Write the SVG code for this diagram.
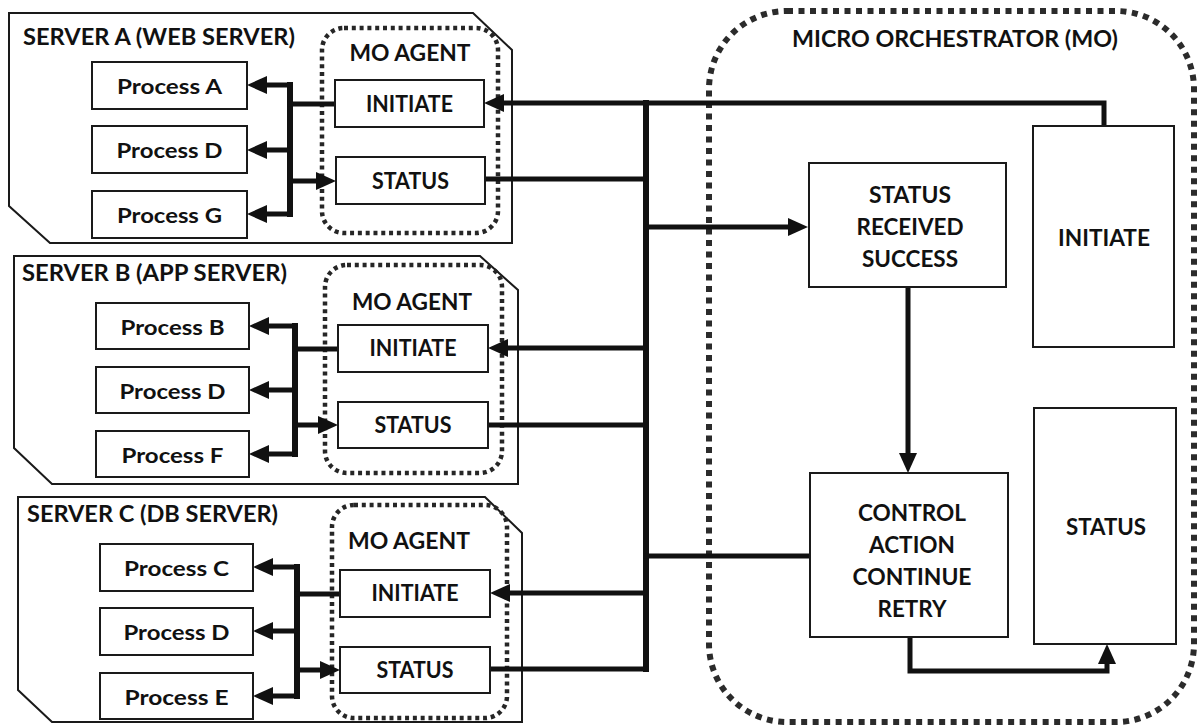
<svg xmlns="http://www.w3.org/2000/svg" width="1198" height="726" viewBox="0 0 1198 726">
  <style>
    .bg { fill: #ffffff; }
    .server { fill: #ffffff; stroke: #1a1a1a; stroke-width: 2; stroke-linejoin: miter; }
    .agent { fill: none; stroke: #262626; stroke-width: 4.5; stroke-dasharray: 4 3.8; }
    .mo { fill: none; stroke: #2b2b2b; stroke-width: 6; stroke-dasharray: 6 5.5; }
    .box { fill: #ffffff; stroke: #1a1a1a; stroke-width: 2; }
    .wire { fill: none; stroke: #111111; stroke-width: 5; stroke-linejoin: miter; stroke-linecap: square; }
    .trunk { fill: none; stroke: #111111; stroke-width: 6; stroke-linecap: square; }
    .arrow { fill: none; stroke: #111111; stroke-width: 5; stroke-linecap: butt; stroke-linejoin: miter; marker-end: url(#head); }
    text { font-family: Lato, "Open Sans", "Liberation Sans", sans-serif; font-weight: 700; fill: #111111; }
    .title { font-size: 22px; }
    .proc { font-size: 21px; text-anchor: middle; }
    .lbl { font-size: 22px; text-anchor: middle; }
    .big { font-size: 23px; text-anchor: middle; }
  </style>
  <defs>
    <marker id="head" markerUnits="userSpaceOnUse" markerWidth="20" markerHeight="18" viewBox="0 0 20 18" refX="10" refY="9" orient="auto">
      <path d="M0,0 L20,9 L0,18 Z" fill="#111111"/>
    </marker>
  </defs>

  <rect class="bg" x="0" y="0" width="1198" height="726"/>

  <!-- Micro orchestrator boundary -->
  <g id="micro-orchestrator">
    <rect class="mo" x="709" y="11" width="485" height="711" rx="78" ry="78"/>
    <text class="big" x="955" y="47" textLength="326" lengthAdjust="spacingAndGlyphs">MICRO ORCHESTRATOR (MO)</text>
  </g>

  <!-- Server A -->
  <g id="server-a">
    <path class="server" d="M9,13 H473 L512,50 V243 H50 L9,206 Z"/>
    <text class="title" x="23" y="45" textLength="272" lengthAdjust="spacingAndGlyphs">SERVER A (WEB SERVER)</text>
  </g>
  <g id="agent-a">
    <rect class="agent" x="322" y="28" width="176" height="205" rx="22" ry="22"/>
    <text class="lbl" x="410" y="61" textLength="121" lengthAdjust="spacingAndGlyphs">MO AGENT</text>
  </g>

  <!-- Server B -->
  <g id="server-b">
    <path class="server" d="M14,256 H480 L518,290 V484 H52 L14,448 Z"/>
    <text class="title" x="22" y="281" textLength="265" lengthAdjust="spacingAndGlyphs">SERVER B (APP SERVER)</text>
  </g>
  <g id="agent-b">
    <rect class="agent" x="325" y="265" width="177" height="208" rx="22" ry="22"/>
    <text class="lbl" x="412" y="310" textLength="120" lengthAdjust="spacingAndGlyphs">MO AGENT</text>
  </g>

  <!-- Server C -->
  <g id="server-c">
    <path class="server" d="M18,497 H485 L522,533 V722 H52 L18,690 Z"/>
    <text class="title" x="27" y="522" textLength="251" lengthAdjust="spacingAndGlyphs">SERVER C (DB SERVER)</text>
  </g>
  <g id="agent-c">
    <rect class="agent" x="332" y="505" width="175" height="213" rx="22" ry="22"/>
    <text class="lbl" x="409" y="549" textLength="122" lengthAdjust="spacingAndGlyphs">MO AGENT</text>
  </g>

  <!-- Connectors -->
  <g id="connectors">
    <!-- server A: agent to processes -->
    <path class="trunk" d="M290,85 V214"/>
    <path class="wire" d="M335,104 H290"/>
    <path class="arrow" d="M290,85 H257"/>
    <path class="arrow" d="M290,150 H257"/>
    <path class="arrow" d="M290,214 H257"/>
    <path class="arrow" d="M290,181 H326"/>

    <!-- server B: agent to processes -->
    <path class="trunk" d="M295,326 V454"/>
    <path class="wire" d="M338,349 H295"/>
    <path class="arrow" d="M295,326 H259"/>
    <path class="arrow" d="M295,390 H259"/>
    <path class="arrow" d="M295,454 H259"/>
    <path class="arrow" d="M295,425 H328"/>

    <!-- server C: agent to processes -->
    <path class="trunk" d="M297,567 V696"/>
    <path class="wire" d="M340,594 H297"/>
    <path class="arrow" d="M297,567 H263"/>
    <path class="arrow" d="M297,631 H263"/>
    <path class="arrow" d="M297,696 H263"/>
    <path class="arrow" d="M297,670 H330"/>

    <!-- orchestrator bus -->
    <path class="trunk" d="M646,103 V669"/>
    <path class="arrow" d="M1104,126 V103 H494"/>
    <path class="wire" d="M485,179 H646"/>
    <path class="arrow" d="M646,227 H798"/>
    <path class="arrow" d="M646,348 H498"/>
    <path class="wire" d="M488,425 H646"/>
    <path class="wire" d="M810,556 H646"/>
    <path class="arrow" d="M646,593 H500"/>
    <path class="wire" d="M490,669 H646"/>

    <!-- inside the orchestrator -->
    <path class="arrow" d="M908,287 V463"/>
    <path class="arrow" d="M910,637 V671 H1107 V654"/>
  </g>

  <!-- Server A processes and agent blocks -->
  <g id="process-a-a"><rect class="box" x="92" y="62" width="155" height="47"/><text class="proc" x="169.5" y="94" textLength="105" lengthAdjust="spacingAndGlyphs">Process A</text></g>
  <g id="process-a-d"><rect class="box" x="92" y="126" width="155" height="47"/><text class="proc" x="169.5" y="158" textLength="106" lengthAdjust="spacingAndGlyphs">Process D</text></g>
  <g id="process-a-g"><rect class="box" x="92" y="191" width="155" height="47"/><text class="proc" x="169.5" y="223" textLength="105" lengthAdjust="spacingAndGlyphs">Process G</text></g>
  <g id="initiate-a"><rect class="box" x="335" y="80" width="149" height="47"/><text class="lbl" x="409.5" y="112" textLength="87" lengthAdjust="spacingAndGlyphs">INITIATE</text></g>
  <g id="status-a"><rect class="box" x="336" y="157" width="149" height="47"/><text class="lbl" x="410.5" y="189" textLength="77" lengthAdjust="spacingAndGlyphs">STATUS</text></g>

  <!-- Server B processes and agent blocks -->
  <g id="process-b-b"><rect class="box" x="96" y="303" width="153" height="46"/><text class="proc" x="172.5" y="334.5" textLength="104" lengthAdjust="spacingAndGlyphs">Process B</text></g>
  <g id="process-b-d"><rect class="box" x="96" y="367" width="153" height="46"/><text class="proc" x="172.5" y="398.5" textLength="106" lengthAdjust="spacingAndGlyphs">Process D</text></g>
  <g id="process-b-f"><rect class="box" x="96" y="431" width="153" height="46"/><text class="proc" x="172.5" y="462.5" textLength="102" lengthAdjust="spacingAndGlyphs">Process F</text></g>
  <g id="initiate-b"><rect class="box" x="338" y="325" width="150" height="47"/><text class="lbl" x="413" y="356" textLength="87" lengthAdjust="spacingAndGlyphs">INITIATE</text></g>
  <g id="status-b"><rect class="box" x="338" y="402" width="150" height="46"/><text class="lbl" x="413" y="433" textLength="77" lengthAdjust="spacingAndGlyphs">STATUS</text></g>

  <!-- Server C processes and agent blocks -->
  <g id="process-c-c"><rect class="box" x="100" y="544" width="153" height="47"/><text class="proc" x="176.5" y="576" textLength="105" lengthAdjust="spacingAndGlyphs">Process C</text></g>
  <g id="process-c-d"><rect class="box" x="100" y="608" width="153" height="47"/><text class="proc" x="176.5" y="640" textLength="106" lengthAdjust="spacingAndGlyphs">Process D</text></g>
  <g id="process-c-e"><rect class="box" x="100" y="673" width="153" height="46"/><text class="proc" x="176.5" y="704.5" textLength="104" lengthAdjust="spacingAndGlyphs">Process E</text></g>
  <g id="initiate-c"><rect class="box" x="340" y="570" width="150" height="47"/><text class="lbl" x="415" y="601" textLength="87" lengthAdjust="spacingAndGlyphs">INITIATE</text></g>
  <g id="status-c"><rect class="box" x="340" y="647" width="150" height="46"/><text class="lbl" x="415" y="678" textLength="77" lengthAdjust="spacingAndGlyphs">STATUS</text></g>

  <!-- Orchestrator blocks -->
  <g id="status-received-success">
    <rect class="box" x="809" y="163" width="197" height="124"/>
    <text class="big" x="910" y="203" textLength="82" lengthAdjust="spacingAndGlyphs">STATUS</text>
    <text class="big" x="910" y="235" textLength="107" lengthAdjust="spacingAndGlyphs">RECEIVED</text>
    <text class="big" x="910" y="267" textLength="96" lengthAdjust="spacingAndGlyphs">SUCCESS</text>
  </g>
  <g id="mo-initiate">
    <rect class="box" x="1033" y="126" width="141" height="221"/>
    <text class="big" x="1104" y="246" textLength="92" lengthAdjust="spacingAndGlyphs">INITIATE</text>
  </g>
  <g id="control-action">
    <rect class="box" x="810" y="473" width="198" height="164"/>
    <text class="big" x="912" y="521" textLength="108" lengthAdjust="spacingAndGlyphs">CONTROL</text>
    <text class="big" x="912" y="553" textLength="86" lengthAdjust="spacingAndGlyphs">ACTION</text>
    <text class="big" x="912" y="585" textLength="119" lengthAdjust="spacingAndGlyphs">CONTINUE</text>
    <text class="big" x="912" y="617" textLength="69" lengthAdjust="spacingAndGlyphs">RETRY</text>
  </g>
  <g id="mo-status">
    <rect class="box" x="1034" y="408" width="142" height="236"/>
    <text class="big" x="1106" y="535" textLength="80" lengthAdjust="spacingAndGlyphs">STATUS</text>
  </g>
</svg>
